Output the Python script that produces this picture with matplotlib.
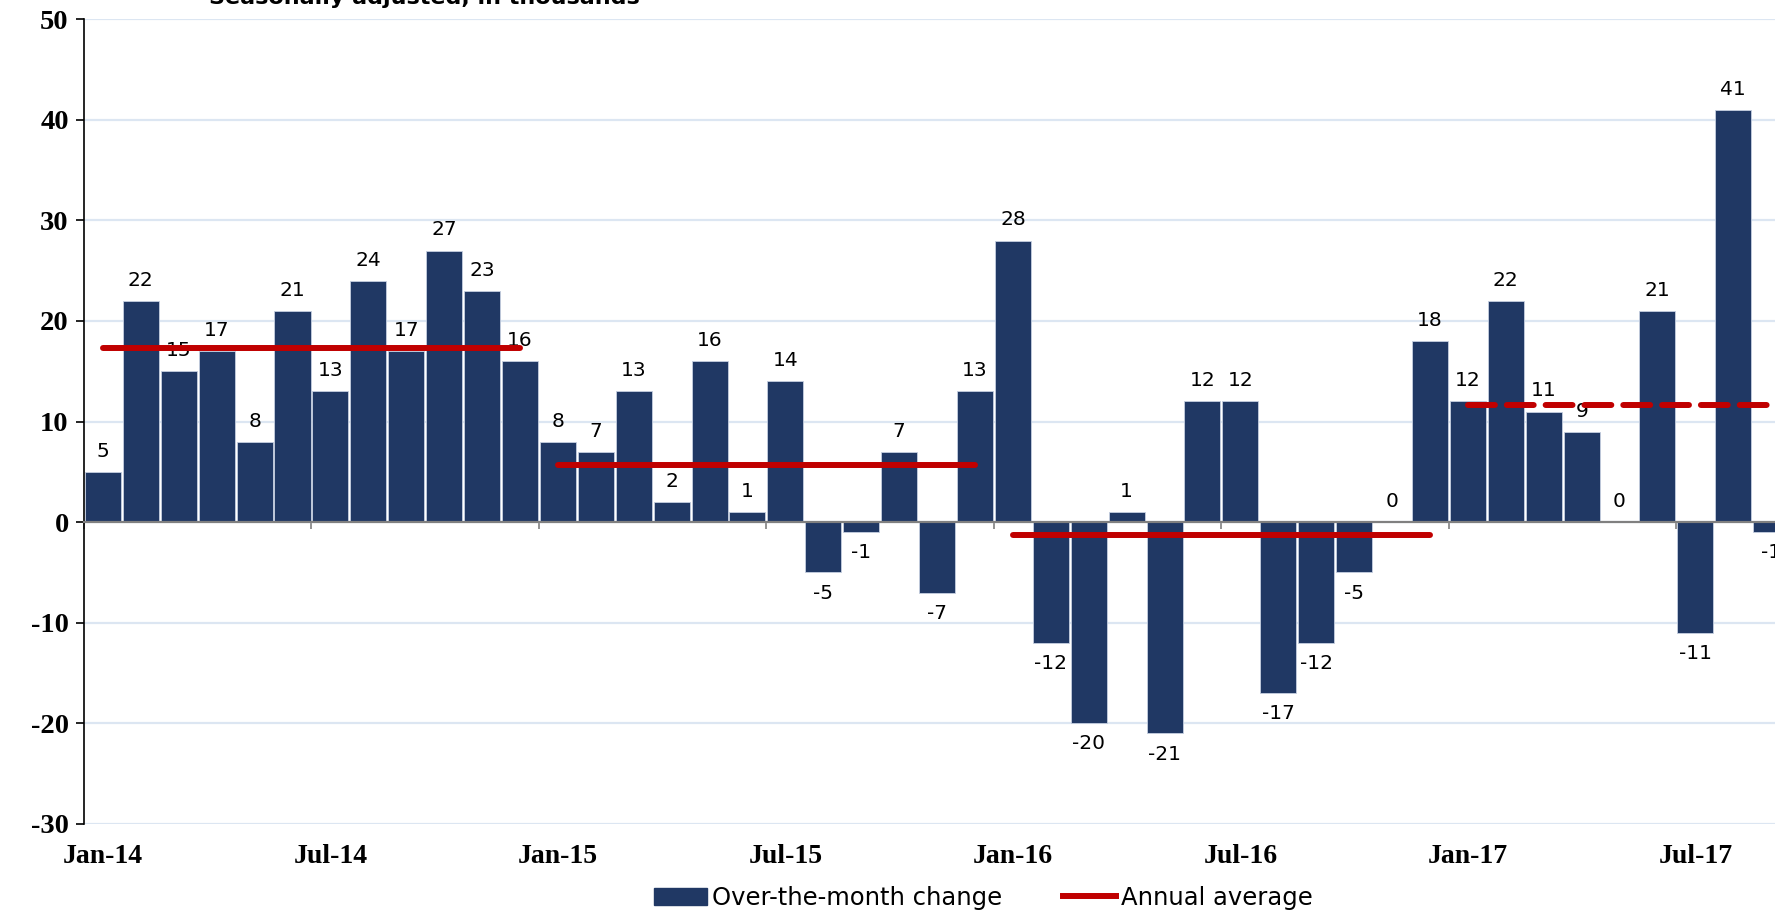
import matplotlib.pyplot as plt
import matplotlib.transforms as mtransforms
from matplotlib.lines import Line2D
from matplotlib.patches import Patch

# ── Data ──────────────────────────────────────────────────────
months = ['Jan-14', 'Feb-14', 'Mar-14', 'Apr-14', 'May-14', 'Jun-14',
          'Jul-14', 'Aug-14', 'Sep-14', 'Oct-14', 'Nov-14', 'Dec-14',
          'Jan-15', 'Feb-15', 'Mar-15', 'Apr-15', 'May-15', 'Jun-15',
          'Jul-15', 'Aug-15', 'Sep-15', 'Oct-15', 'Nov-15', 'Dec-15',
          'Jan-16', 'Feb-16', 'Mar-16', 'Apr-16', 'May-16', 'Jun-16',
          'Jul-16', 'Aug-16', 'Sep-16', 'Oct-16', 'Nov-16', 'Dec-16',
          'Jan-17', 'Feb-17', 'Mar-17', 'Apr-17', 'May-17', 'Jun-17',
          'Jul-17', 'Aug-17', 'Sep-17']
change = [5, 22, 15, 17, 8, 21, 13, 24, 17, 27, 23, 16,
          8, 7, 13, 2, 16, 1, 14, -5, -1, 7, -7, 13,
          28, -12, -20, 1, -21, 12, 12, -17, -12, -5, 0, 18,
          12, 22, 11, 9, 0, 21, -11, 41, -1]
avg_start = [0, 12, 24, 36]
avg_end   = [11, 23, 35, 47]
avg_value = [17.3, 5.7, -1.3, 11.6]
avg_style = ['-', '-', '-', (0, (4.5, 2))]

NAVY = '#203864'
RED  = '#C00000'
AXIS_FONT = 'Liberation Serif'

plt.rcParams['axes.unicode_minus'] = False

fig = plt.figure(figsize=(17.75, 9.14), dpi=100)
ax = fig.add_axes([0.0473, 0.0985, 0.9527, 0.8805])

x = list(range(len(change)))
ax.bar(x, change, width=0.95, color=NAVY, edgecolor='#c5cfe0',
       linewidth=0.6, zorder=2)

for xi, v in zip(x, change):
    if v >= 0:
        ax.annotate(f'{v}', (xi, v), textcoords='offset points',
                    xytext=(0, 8), ha='center', va='bottom', fontsize=14.5)
    else:
        ax.annotate(f'{v}', (xi, v), textcoords='offset points',
                    xytext=(0, -8), ha='center', va='top', fontsize=14.5)

for s, e, v, ls in zip(avg_start, avg_end, avg_value, avg_style):
    ax.plot([s, e], [v, v], color=RED, linewidth=4.3, linestyle=ls,
            solid_capstyle='round', dash_capstyle='round', zorder=3)

# zero line acts as category axis
ax.axhline(0, color='#808080', linewidth=1.5, zorder=2.5)

ax.set_xlim(-0.5, 44.1)
ax.set_ylim(-30, 50)
ax.set_yticks(range(-30, 51, 10))
ax.grid(True, axis='y', color='#dce6f2', linewidth=1.6, zorder=0)
ax.set_axisbelow(True)
for sp in ['top', 'right']:
    ax.spines[sp].set_visible(False)
ax.spines['left'].set_linewidth(1.2)
ax.tick_params(axis='y', length=6, width=1.2, pad=5)
for lbl in ax.get_yticklabels():
    lbl.set_fontfamily(AXIS_FONT)
    lbl.set_fontweight('bold')
    lbl.set_fontsize(20.5)

# tick marks at half-year boundaries on the zero line, labels at the bottom
bounds = [i - 0.5 for i in range(0, len(change), 6)]
ax.set_xticks(bounds)
ax.set_xticklabels([])
ax.tick_params(axis='x', length=5, width=1.2, color='#808080')
ax.spines['bottom'].set_position(('data', 0))
ax.spines['bottom'].set_color('#808080')
ax.spines['bottom'].set_linewidth(1.5)

trans = mtransforms.blended_transform_factory(ax.transData, ax.transAxes)
for i in range(0, len(change), 6):
    ax.text(i, -0.04, months[i], transform=trans, ha='center', va='center',
            fontsize=20, fontweight='bold', family=AXIS_FONT)

# subtitle sits mostly above the visible area, as in the source crop
fig.text(0.239, 0.9955, 'Seasonally adjusted, in thousands', ha='center',
         va='baseline', fontsize=16, fontweight='bold')

handles = [Patch(facecolor=NAVY, edgecolor=NAVY),
           Line2D([0], [0], color=RED, linewidth=4.3)]
fig.legend(handles, ['Over-the-month change', 'Annual average'],
           loc='center', bbox_to_anchor=(0.554, 0.018), ncol=2,
           frameon=False, fontsize=17.5, handlelength=2.2, handletextpad=0.2,
           columnspacing=2.5)

fig.savefig('out.png', dpi=100)
